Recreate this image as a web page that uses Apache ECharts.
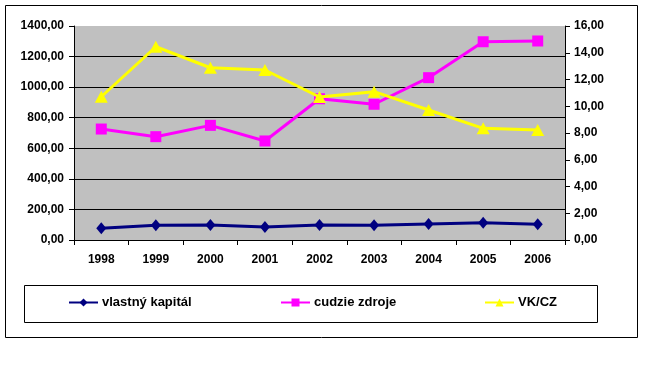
<!DOCTYPE html>
<html>
<head>
<meta charset="utf-8">
<script src="https://cdn.jsdelivr.net/npm/echarts@6/dist/echarts.min.js"></script>
<style>
html,body{margin:0;padding:0;background:#fff;}
#c{width:645px;height:384px;}
</style>
</head>
<body>
<div id="c"></div>
<script>
const years = ['1998','1999','2000','2001','2002','2003','2004','2005','2006'];
const vlastnyKapital = [77, 96, 98, 85, 98, 96, 105, 113, 103];
const cudzieZdroje = [726, 676, 750, 648, 924, 888, 1062, 1297, 1302];
const vkCz = [10.71, 14.45, 12.88, 12.71, 10.69, 11.09, 9.72, 8.35, 8.22];
const seriesNames = ['vlastný kapitál', 'cudzie zdroje', 'VK/CZ'];

const fmt = v => v.toFixed(2).replace('.', ',');
const font = {fontFamily: 'Liberation Sans, Arial, sans-serif', fontWeight: 'bold', fontSize: 12, color: '#000'};

const chart = echarts.init(document.getElementById('c'));
const legendBase = {
  orient: 'horizontal', top: 296, padding: 0, itemWidth: 29, itemHeight: 10, itemGap: 10,
  textStyle: Object.assign({}, font, {fontSize: 13, padding: [0, 0, 0, -1]}), selectedMode: false
};
chart.setOption({
  animation: false,
  backgroundColor: '#fff',
  graphic: [
    {type: 'rect', shape: {x: 5.5, y: 5.5, width: 632, height: 332}, style: {fill: 'none', stroke: '#000', lineWidth: 1}, z: -10},
    {type: 'rect', shape: {x: 24.5, y: 285.5, width: 573, height: 37}, style: {fill: 'none', stroke: '#000', lineWidth: 1}, z: -10}
  ],
  legend: [
    Object.assign({}, legendBase, {left: 68, data: [seriesNames[0]]}),
    Object.assign({}, legendBase, {left: 280, data: [seriesNames[1]]}),
    Object.assign({}, legendBase, {left: 484, data: [seriesNames[2]]})
  ],
  grid: {left: 74, right: 80, top: 26, bottom: 144, show: true, backgroundColor: '#C0C0C0', borderWidth: 0},
  xAxis: {
    type: 'category', data: years, boundaryGap: true,
    axisLine: {lineStyle: {color: '#000', width: 1}},
    axisTick: {show: true, alignWithLabel: false, length: 5, lineStyle: {color: '#000'}},
    axisLabel: Object.assign({margin: 14}, font)
  },
  yAxis: [
    {
      type: 'value', min: 0, max: 1400, interval: 200,
      axisLine: {show: true, lineStyle: {color: '#000'}},
      axisTick: {show: true, length: 5, lineStyle: {color: '#000'}},
      axisLabel: Object.assign({margin: 10, formatter: fmt}, font),
      splitLine: {show: true, lineStyle: {color: ['#000','#000','#000','#000','#000','#000','#000','#C0C0C0'], width: 1}}
    },
    {
      type: 'value', min: 0, max: 16, interval: 2, position: 'right',
      axisLine: {show: true, lineStyle: {color: '#000'}},
      axisTick: {show: true, length: 5, lineStyle: {color: '#000'}},
      axisLabel: Object.assign({margin: 9, formatter: fmt}, font),
      splitLine: {show: false}
    }
  ],
  series: [
    {
      name: seriesNames[0], type: 'line', data: vlastnyKapital, yAxisIndex: 0,
      symbol: 'diamond', symbolSize: [10, 12],
      lineStyle: {color: '#000080', width: 3}, itemStyle: {color: '#000080'}, z: 3
    },
    {
      name: seriesNames[1], type: 'line', data: cudzieZdroje, yAxisIndex: 0,
      symbol: 'rect', symbolSize: 11,
      lineStyle: {color: '#FF00FF', width: 3}, itemStyle: {color: '#FF00FF'}, z: 3
    },
    {
      name: seriesNames[2], type: 'line', data: vkCz, yAxisIndex: 1,
      symbol: 'triangle', symbolSize: [13, 12],
      lineStyle: {color: '#FFFF00', width: 3}, itemStyle: {color: '#FFFF00'}, z: 4
    }
  ]
});
</script>
</body>
</html>
